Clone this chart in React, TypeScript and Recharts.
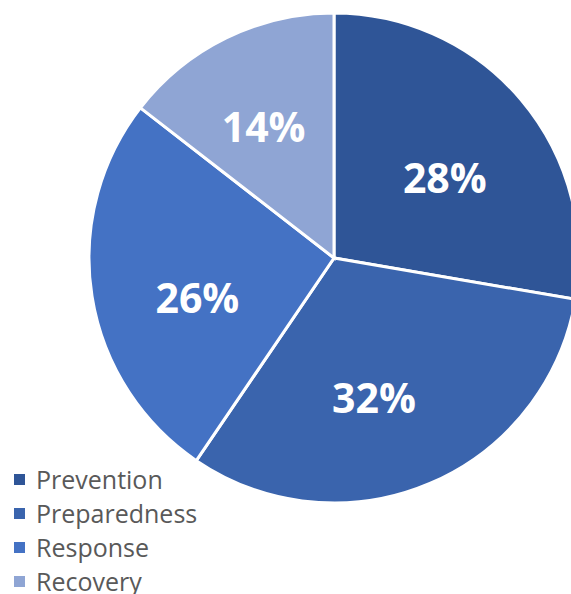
import { PieChart, Pie, Cell } from 'recharts';

const categories = ['Prevention', 'Preparedness', 'Response', 'Recovery'];
const shares = [27.7, 31.8, 26.0, 14.5];
const shareLabels = ['28%', '32%', '26%', '14%'];
const colors = ['#2F5597', '#3A64AD', '#4472C4', '#8FA5D4'];

const data = categories.map((name, i) => ({ name, value: shares[i], label: shareLabels[i] }));

// pequenos ajustes para aproximar o "melhor ajuste" das etiquetas
const labelAngleShift = [-4, -7, 7, 2];
const labelRadius = [0.56, 0.59, 0.58, 0.61];

const RADIAN = Math.PI / 180;

const renderLabel = (props: any) => {
  const { cx, cy, midAngle, outerRadius, index } = props;
  const a = (midAngle + labelAngleShift[index]) * RADIAN;
  const r = outerRadius * labelRadius[index];
  const x = cx + r * Math.cos(-a);
  const y = cy + r * Math.sin(-a);
  return (
    <text
      x={x}
      y={y}
      fill="#FFFFFF"
      textAnchor="middle"
      dominantBaseline="central"
      fontFamily="'Open Sans', sans-serif"
      fontWeight={700}
      fontSize={41}
    >
      {data[index].label}
    </text>
  );
};

export default function App() {
  return (
    <div style={{ position: 'absolute', left: 0, top: 0, width: 571, height: 594, overflow: 'hidden', background: '#fff' }}>
      <PieChart width={571} height={594} margin={{ top: 0, right: 0, bottom: 0, left: 0 }}>
        <Pie
          data={data}
          dataKey="value"
          nameKey="name"
          cx={334}
          cy={258}
          outerRadius={245}
          startAngle={90}
          endAngle={-270}
          stroke="#FFFFFF"
          strokeWidth={3}
          label={renderLabel}
          labelLine={false}
          isAnimationActive={false}
        >
          {data.map((d, i) => (
            <Cell key={d.name} fill={colors[i]} />
          ))}
        </Pie>
      </PieChart>
      {/* legenda fora do PieChart para não deslocar o centro */}
      <div style={{ position: 'absolute', left: 14, top: 462, fontFamily: "'Open Sans', sans-serif" }}>
        {categories.map((name, i) => (
          <div key={name} style={{ display: 'flex', alignItems: 'center', height: 34, whiteSpace: 'nowrap' }}>
            <span
              style={{
                display: 'inline-block',
                width: 11,
                height: 11,
                background: colors[i],
                marginRight: 11,
              }}
            />
            <span style={{ fontSize: 25, color: '#595959', lineHeight: '34px' }}>{name}</span>
          </div>
        ))}
      </div>
    </div>
  );
}
